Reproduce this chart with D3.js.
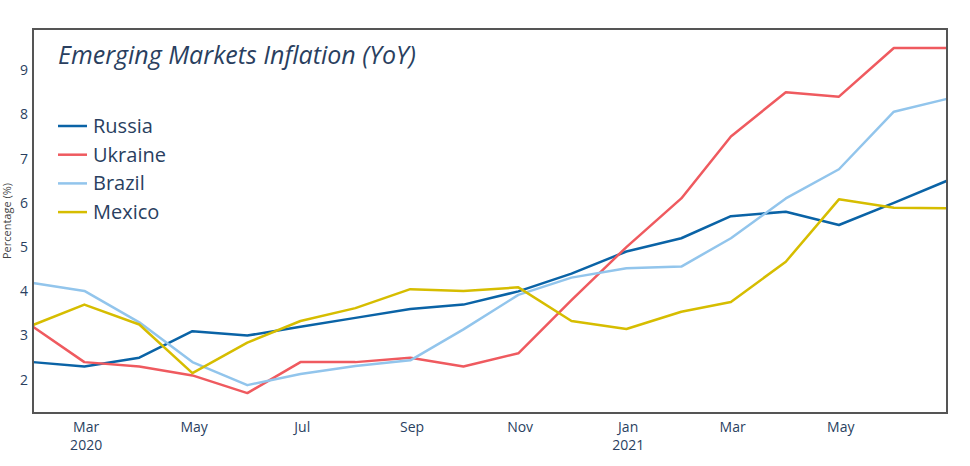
<!DOCTYPE html>
<html>
<head>
<meta charset="utf-8">
<script src="https://cdn.jsdelivr.net/npm/d3@7"></script>
<style>
    body { margin: 0; background: #fff; }
    svg { display: block; font-family: "Open Sans", sans-serif; }
</style>
</head>
<body>
<div id="chart"></div>
<script>
// month-end dates, Jan 2020 .. Jun 2021
const months = [
    "2020-01-31", "2020-02-29", "2020-03-31", "2020-04-30", "2020-05-31", "2020-06-30",
    "2020-07-31", "2020-08-31", "2020-09-30", "2020-10-31", "2020-11-30", "2020-12-31",
    "2021-01-31", "2021-02-28", "2021-03-31", "2021-04-30", "2021-05-31", "2021-06-30"
];
const russia = [2.4, 2.3, 2.5, 3.1, 3.0, 3.2, 3.4, 3.6, 3.7, 4.0, 4.4, 4.9, 5.2, 5.7, 5.8, 5.5, 6.0, 6.5];
const ukraine = [3.2, 2.4, 2.3, 2.1, 1.7, 2.4, 2.4, 2.5, 2.3, 2.6, 3.8, 5.0, 6.1, 7.5, 8.5, 8.4, 9.5, 9.5];
const brazil = [4.19, 4.01, 3.30, 2.40, 1.88, 2.13, 2.31, 2.44, 3.14, 3.92, 4.31, 4.52, 4.56, 5.20, 6.10, 6.76, 8.06, 8.35];
const mexico = [3.24, 3.70, 3.25, 2.15, 2.84, 3.33, 3.62, 4.05, 4.01, 4.09, 3.33, 3.15, 3.54, 3.76, 4.67, 6.08, 5.89, 5.88];
const seriesNames = ["Russia", "Ukraine", "Brazil", "Mexico"];
const seriesColors = ["#0a63a6", "#ef5a5f", "#92c5ec", "#d6bd00"];
const yTicks = [2, 3, 4, 5, 6, 7, 8, 9];

const width = 970,
    height = 466,
    margin = { top: 29, right: 23, bottom: 53, left: 33 };
const textColor = "#2a3f5f";

const parse = d3.timeParse("%Y-%m-%d");
const dates = months.map(parse);
const series = [russia, ukraine, brazil, mexico].map((vals, i) => ({
    name: seriesNames[i],
    color: seriesColors[i],
    values: vals.map((v, j) => ({ date: dates[j], value: v }))
}));

const svg = d3
    .select("#chart")
    .append("svg")
    .attr("width", width)
    .attr("height", height);

const x = d3
    .scaleTime()
    .domain(d3.extent(dates))
    .range([margin.left, width - margin.right]);

const y = d3
    .scaleLinear()
    .domain([1.25, 9.93])
    .range([height - margin.bottom, margin.top]);

// x axis: every other month, year under Mar 2020 and Jan 2021
const xTicks = d3.timeMonth.every(2).range(new Date(2020, 2, 1), new Date(2021, 6, 1));
const xAxis = svg.append("g")
    .attr("transform", `translate(0,${height - margin.bottom})`);
const xt = xAxis.selectAll("g")
    .data(xTicks)
    .join("g")
    .attr("transform", (d) => `translate(${x(d)},0)`);
xt.append("text")
    .attr("y", 19)
    .attr("text-anchor", "middle")
    .attr("fill", textColor)
    .style("font-size", "14px")
    .text((d) => d3.timeFormat("%b")(d));
xt.filter((d, i) => i === 0 || d.getMonth() === 0)
    .append("text")
    .attr("y", 37)
    .attr("text-anchor", "middle")
    .attr("fill", textColor)
    .style("font-size", "14px")
    .text((d) => d.getFullYear());

// y axis
svg.append("g")
    .selectAll("text")
    .data(yTicks)
    .join("text")
    .attr("x", margin.left - 5)
    .attr("y", (d) => y(d))
    .attr("dy", "0.35em")
    .attr("text-anchor", "end")
    .attr("fill", textColor)
    .style("font-size", "14px")
    .text((d) => d);

svg.append("text")
    .attr("transform", `translate(11,${(margin.top + height - margin.bottom) / 2}) rotate(-90)`)
    .attr("text-anchor", "middle")
    .attr("fill", "#444")
    .style("font-size", "11px")
    .text("Percentage (%)");

// lines
const line = d3.line()
    .x((d) => x(d.date))
    .y((d) => y(d.value));

svg.append("g")
    .selectAll("path")
    .data(series)
    .join("path")
    .attr("d", (d) => line(d.values))
    .attr("fill", "none")
    .attr("stroke", (d) => d.color)
    .attr("stroke-width", 2.5)
    .attr("stroke-linejoin", "round");

// frame
svg.append("rect")
    .attr("x", margin.left)
    .attr("y", margin.top)
    .attr("width", width - margin.left - margin.right)
    .attr("height", height - margin.top - margin.bottom)
    .attr("fill", "none")
    .attr("stroke", "#555")
    .attr("stroke-width", 2);

// title
svg.append("text")
    .attr("x", 58)
    .attr("y", 64)
    .attr("fill", textColor)
    .style("font-size", "25px")
    .style("font-style", "italic")
    .text("Emerging Markets Inflation (YoY)");

// legend
const legend = svg.append("g")
    .selectAll("g")
    .data(series)
    .join("g")
    .attr("transform", (d, i) => `translate(58,${126 + i * 28.7})`);
legend.append("line")
    .attr("x1", 0)
    .attr("x2", 29)
    .attr("stroke", (d) => d.color)
    .attr("stroke-width", 2.5);
legend.append("text")
    .attr("x", 35)
    .attr("dy", "0.35em")
    .attr("fill", textColor)
    .style("font-size", "20px")
    .text((d) => d.name);
</script>
</body>
</html>
